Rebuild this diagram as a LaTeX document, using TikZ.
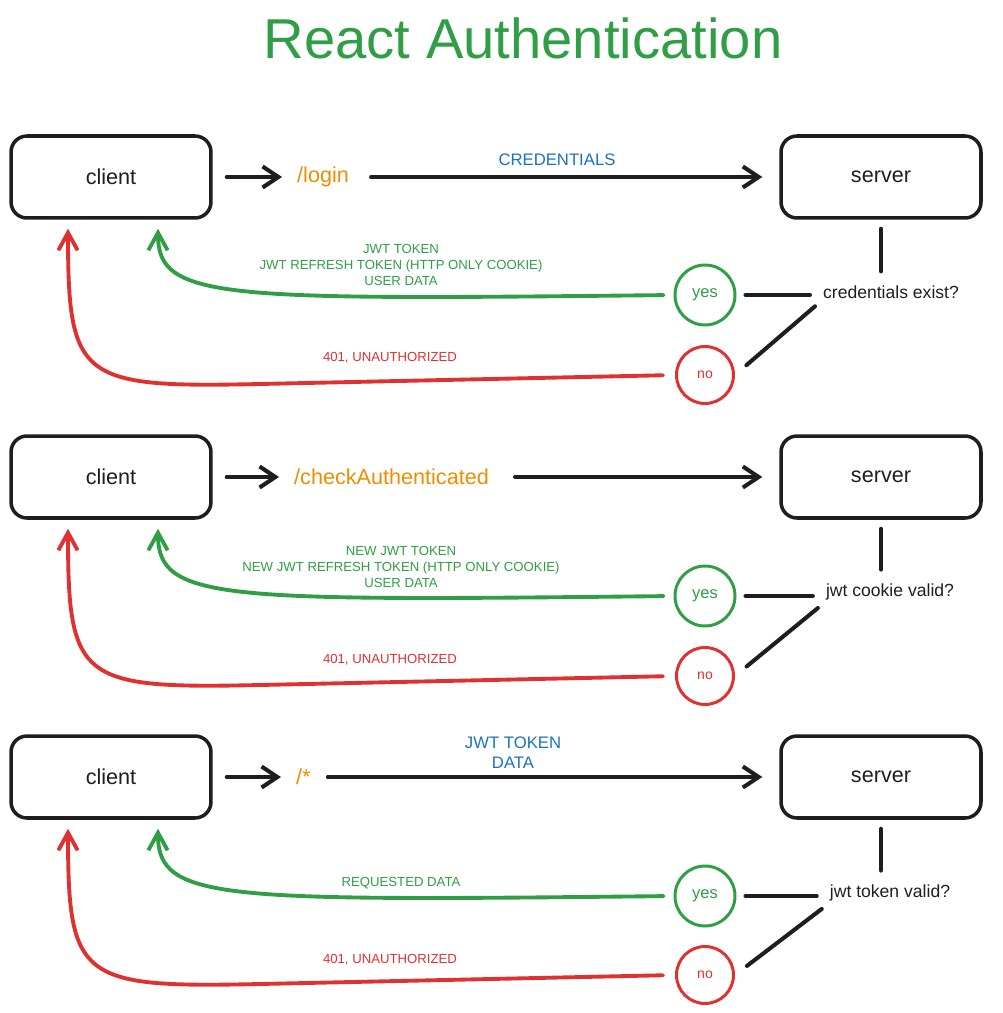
\documentclass[tikz,border=0pt]{standalone}
\usepackage{fontspec}
\setmainfont{Liberation Sans}
\usepackage{xcolor}
\usetikzlibrary{arrows.meta}

\definecolor{inkblack}{HTML}{1E1E1E}
\definecolor{okgreen}{HTML}{2F9E44}
\definecolor{failred}{HTML}{E03131}
\definecolor{routeorange}{HTML}{F08C00}
\definecolor{sendblue}{HTML}{1971C2}

\tikzset{
  heading/.style={text=okgreen, font=\fontsize{32}{38}\selectfont},
  box/.style={draw=inkblack, line width=2pt, rounded corners=0.32cm, minimum width=4cm, minimum height=1.64cm, text=inkblack, font=\fontsize{12.3}{15}\selectfont},
  route/.style={anchor=west, text=routeorange, font=\fontsize{12.3}{15}\selectfont},
  cond/.style={text=inkblack, font=\fontsize{10}{12}\selectfont},
  yesnode/.style={circle, draw=okgreen, line width=1.7pt, minimum size=1.2cm, text=okgreen, font=\fontsize{9.4}{11}\selectfont},
  nonode/.style={circle, draw=failred, line width=1.7pt, minimum size=1.14cm, text=failred, font=\fontsize{8}{10}\selectfont},
  sendlabel/.style={text=sendblue, align=center, font=\fontsize{9.5}{11.3}\selectfont},
  oklabel/.style={text=okgreen, align=center, font=\fontsize{7.5}{9}\selectfont},
  faillabel/.style={text=failred, align=center, font=\fontsize{7.5}{9}\selectfont},
  link/.style={draw=inkblack, line width=2.3pt, line cap=round},
  flow/.style={link, -{Straight Barb[length=9pt,width=12pt]}},
  okflow/.style={draw=okgreen, line width=2.2pt, line cap=round, -{Straight Barb[length=10pt,width=11pt]}},
  failflow/.style={draw=failred, line width=2.2pt, line cap=round, -{Straight Barb[length=10pt,width=11pt]}}
}

\begin{document}
\begin{tikzpicture}[x=0.02cm, y=-0.02cm]
  \useasboundingbox (0,0) rectangle (1002,1013);
  \node[heading] (title) at (523,38) {React Authentication};

  % login
  \node[box] (client1) at (111,177) {client};
  \node[box] (server1) at (881,177) {server};
  \node[route] (login) at (291,177) {/login};
  \node[sendlabel] (cred) at (557,160) {CREDENTIALS};
  \node[cond] (check1) at (891,292) {credentials exist?};
  \node[yesnode] (yes1) at (705,295) {yes};
  \node[nonode] (no1) at (705,375) {no};
  \node[oklabel] (okmsg1) at (401,265) {JWT TOKEN\\JWT REFRESH TOKEN (HTTP ONLY COOKIE)\\USER DATA};
  \node[faillabel] (failmsg1) at (390,358) {401, UNAUTHORIZED};
  \draw[flow, shorten <=0.28cm, shorten >=0.18cm] (client1.east) -- (login.west);
  \draw[flow, shorten <=0.32cm, shorten >=0.34cm] (login.east) -- (server1.west);
  \draw[link, shorten <=0.18cm, shorten >=0.16cm] (server1.south) -- (server1.south |- check1.north);
  \draw[link, shorten <=0.18cm, shorten >=0.14cm] (yes1.east) -- (yes1.east -| check1.west);
  \draw[link, shorten <=0.3cm, shorten >=0.05cm] (no1.east) -- (check1.south west);
  \draw[okflow, shorten <=0.2cm, shorten >=0.18cm] (yes1.west) .. controls (220,300) and (158,300) .. ([xshift=0.94cm]client1.south);
  \draw[failflow, shorten <=0.24cm, shorten >=0.18cm] (no1.west) -- (260,384) .. controls (80,388) and (68,380) .. ([xshift=-0.86cm]client1.south);

  % checkAuthenticated
  \node[box] (client2) at (111,477) {client};
  \node[box] (server2) at (881,477) {server};
  \node[route] (checkauth) at (288,477) {/checkAuthenticated};
  \node[cond] (check2) at (890,592) {jwt cookie valid?};
  \node[yesnode] (yes2) at (705,596) {yes};
  \node[nonode] (no2) at (705,676) {no};
  \node[oklabel] (okmsg2) at (401,567) {NEW JWT TOKEN\\NEW JWT REFRESH TOKEN (HTTP ONLY COOKIE)\\USER DATA};
  \node[faillabel] (failmsg2) at (390,660) {401, UNAUTHORIZED};
  \draw[flow, shorten <=0.28cm, shorten >=0.18cm] (client2.east) -- (checkauth.west);
  \draw[flow, shorten <=0.4cm, shorten >=0.34cm] (checkauth.east) -- (server2.west);
  \draw[link, shorten <=0.18cm, shorten >=0.16cm] (server2.south) -- (server2.south |- check2.north);
  \draw[link, shorten <=0.18cm, shorten >=0.14cm] (yes2.east) -- (yes2.east -| check2.west);
  \draw[link, shorten <=0.3cm, shorten >=0.05cm] (no2.east) -- (check2.south west);
  \draw[okflow, shorten <=0.2cm, shorten >=0.18cm] (yes2.west) .. controls (220,601) and (158,601) .. ([xshift=0.94cm]client2.south);
  \draw[failflow, shorten <=0.24cm, shorten >=0.18cm] (no2.west) -- (260,685) .. controls (80,689) and (68,681) .. ([xshift=-0.86cm]client2.south);

  % any other route
  \node[box] (client3) at (111,777) {client};
  \node[box] (server3) at (881,777) {server};
  \node[route] (anyroute) at (290,777) {/*};
  \node[sendlabel] (tokdata) at (513,753) {JWT TOKEN\\DATA};
  \node[cond] (check3) at (890,893) {jwt token valid?};
  \node[yesnode] (yes3) at (705,896) {yes};
  \node[nonode] (no3) at (705,975) {no};
  \node[oklabel] (okmsg3) at (401,883) {REQUESTED DATA};
  \node[faillabel] (failmsg3) at (390,960) {401, UNAUTHORIZED};
  \draw[flow, shorten <=0.28cm, shorten >=0.18cm] (client3.east) -- (anyroute.west);
  \draw[flow, shorten <=0.22cm, shorten >=0.34cm] (anyroute.east) -- (server3.west);
  \draw[link, shorten <=0.18cm, shorten >=0.16cm] (server3.south) -- (server3.south |- check3.north);
  \draw[link, shorten <=0.18cm, shorten >=0.14cm] (yes3.east) -- (yes3.east -| check3.west);
  \draw[link, shorten <=0.3cm, shorten >=0.05cm] (no3.east) -- (check3.south west);
  \draw[okflow, shorten <=0.2cm, shorten >=0.18cm] (yes3.west) .. controls (220,901) and (158,901) .. ([xshift=0.94cm]client3.south);
  \draw[failflow, shorten <=0.24cm, shorten >=0.18cm] (no3.west) -- (260,984) .. controls (80,988) and (68,980) .. ([xshift=-0.86cm]client3.south);
\end{tikzpicture}
\end{document}
